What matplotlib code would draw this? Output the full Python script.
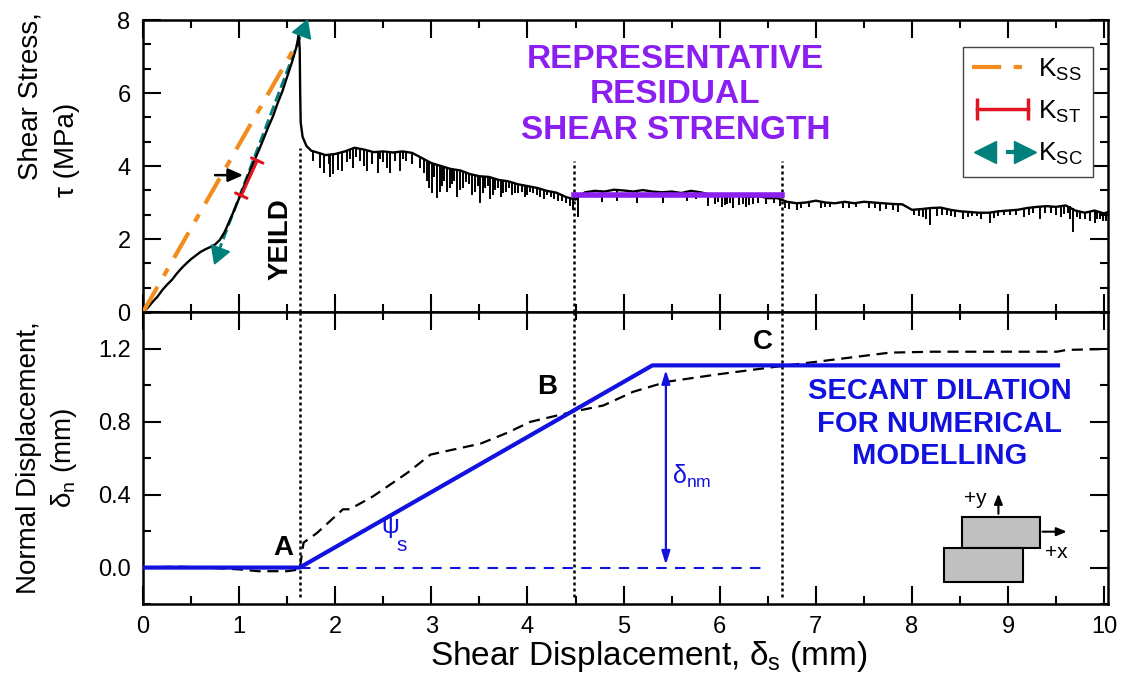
import numpy as np
import matplotlib.pyplot as plt
from matplotlib.lines import Line2D
from matplotlib.patches import Rectangle
from matplotlib.legend_handler import HandlerBase
from matplotlib.ticker import MultipleLocator, AutoMinorLocator, FormatStrFormatter

plt.rcParams['font.family'] = ['Liberation Sans', 'DejaVu Sans']

# shear stress curve, pre-peak
pre_x = [0, 0.05, 0.1, 0.15, 0.2, 0.25, 0.3, 0.35, 0.4, 0.45, 0.5, 0.55, 0.6, 0.65, 0.7,
         0.75, 0.8, 0.85, 0.9, 0.95, 1.0, 1.05, 1.1, 1.15, 1.2, 1.25, 1.3, 1.35, 1.4, 1.45,
         1.5, 1.55, 1.6, 1.62]
pre_y = [0, 0.12, 0.28, 0.42, 0.6, 0.75, 0.88, 1.05, 1.2, 1.33, 1.45, 1.55, 1.65, 1.72, 1.78,
         1.85, 1.98, 2.2, 2.5, 2.8, 3.12, 3.45, 3.78, 4.1, 4.4, 4.72, 5.05, 5.35, 5.72, 6.05,
         6.45, 6.85, 7.3, 7.62]
# post-peak
post_x = [1.63, 1.635, 1.64, 1.66, 1.7, 1.75, 1.8, 1.9, 2.0, 2.1, 2.2, 2.3, 2.4, 2.5, 2.6,
          2.7, 2.8, 2.9, 3.0, 3.1, 3.2, 3.3, 3.4, 3.5, 3.6, 3.7, 3.8, 3.9, 4.0, 4.1, 4.2,
          4.3, 4.4, 4.5, 4.55, 4.6, 4.7, 4.8, 4.9, 5.0, 5.1, 5.2, 5.3, 5.4, 5.5, 5.6, 5.7,
          5.8, 5.9, 6.0, 6.1, 6.2, 6.3, 6.4, 6.5, 6.6, 6.7, 6.8, 6.9, 7.0, 7.1, 7.2, 7.3,
          7.4, 7.5, 7.6, 7.7, 7.8, 7.9, 8.0, 8.1, 8.2, 8.3, 8.4, 8.5, 8.6, 8.7, 8.8, 8.9,
          9.0, 9.1, 9.2, 9.3, 9.4, 9.5, 9.6, 9.7, 9.8, 9.9, 10.0, 10.05]
post_y = [7.2, 6.0, 5.2, 4.8, 4.55, 4.42, 4.38, 4.30, 4.33, 4.40, 4.50, 4.45, 4.38, 4.40, 4.37,
          4.40, 4.36, 4.22, 4.08, 4.00, 3.92, 3.88, 3.78, 3.72, 3.70, 3.62, 3.58, 3.50, 3.45,
          3.40, 3.32, 3.27, 3.15, 3.08, 3.20, 3.28, 3.32, 3.30, 3.35, 3.33, 3.30, 3.34, 3.30,
          3.28, 3.30, 3.26, 3.32, 3.28, 3.22, 3.20, 3.18, 3.20, 3.15, 3.18, 3.12, 3.12, 3.02,
          2.98, 3.00, 3.05, 3.00, 2.98, 3.02, 2.98, 3.02, 3.00, 2.98, 2.96, 2.95, 2.80, 2.82,
          2.85, 2.86, 2.80, 2.76, 2.74, 2.72, 2.72, 2.76, 2.78, 2.80, 2.85, 2.88, 2.90, 2.88,
          2.92, 2.78, 2.72, 2.78, 2.70, 2.75]

# downward spikes of the stress record (x, top, tip)
spike_x = [1.84, 1.88, 1.93, 1.98, 2.03, 2.07, 2.12, 2.18, 2.26, 2.33, 2.38, 2.44, 2.50, 2.57,
           2.62, 2.67, 2.74, 2.80, 2.88, 2.95, 3.01, 3.06, 3.11, 3.16, 3.21, 3.27, 3.33, 3.39,
           3.45, 3.51, 3.56, 3.61, 3.66, 3.72, 3.78, 3.84, 3.90, 3.97, 4.03, 4.10, 4.17, 4.24,
           4.32, 4.40, 4.47, 4.53, 4.62, 4.78, 4.93, 5.14, 5.41, 5.66, 5.88, 5.95, 6.02, 6.08,
           6.14, 6.20, 6.27, 6.35, 6.48, 6.56, 6.63, 6.72, 6.80, 6.93, 7.05, 7.15, 7.28, 7.42,
           7.55, 7.67, 7.80, 7.86, 8.02, 8.12, 8.19, 8.26, 8.36, 8.45, 8.53, 8.62, 8.72, 8.81,
           8.90, 9.02, 9.17, 9.26, 9.33, 9.45, 9.55, 9.62, 9.68, 9.75, 9.85, 9.90, 9.96, 10.02,
           1.77, 1.95, 2.15, 2.22, 2.30, 2.47, 2.54, 2.70, 2.92, 2.98, 3.03, 3.09, 3.13, 3.19,
           3.24, 3.30, 3.36, 3.42, 3.48, 3.54, 3.59, 3.64, 3.69, 3.75, 3.81, 3.87, 3.94, 4.00,
           4.06, 4.13, 4.20, 4.28, 4.36, 4.44, 5.75, 5.98, 6.05, 6.11, 6.24, 6.31, 6.40, 6.68,
           6.85, 7.10, 7.35, 7.62, 7.73, 8.07, 8.15, 8.31, 8.41, 8.58, 8.68, 8.85, 8.96, 9.08,
           9.22, 9.38, 9.50, 9.58, 9.65, 9.72, 9.80, 9.93, 9.99]
spike_top = [4.35, 4.32, 4.30, 4.31, 4.34, 4.36, 4.42, 4.48, 4.48, 4.42, 4.38, 4.39, 4.40, 4.38,
             4.38, 4.39, 4.38, 4.36, 4.25, 4.15, 4.07, 4.03, 3.99, 3.95, 3.92, 3.89, 3.86, 3.79,
             3.75, 3.72, 3.71, 3.70, 3.65, 3.61, 3.59, 3.55, 3.50, 3.47, 3.44, 3.40, 3.34, 3.30,
             3.25, 3.15, 3.09, 3.15, 3.29, 3.30, 3.34, 3.31, 3.28, 3.31, 3.25, 3.23, 3.20, 3.19,
             3.19, 3.20, 3.16, 3.17, 3.13, 3.12, 3.10, 3.01, 2.98, 3.01, 3.04, 2.99, 3.01, 2.99,
             3.02, 2.99, 2.96, 2.95, 2.80, 2.83, 2.85, 2.85, 2.83, 2.78, 2.75, 2.73, 2.72, 2.72,
             2.76, 2.78, 2.83, 2.86, 2.88, 2.90, 2.89, 2.91, 2.85, 2.76, 2.74, 2.77, 2.72, 2.72,
             4.40, 4.30, 4.45, 4.50, 4.46, 4.39, 4.39, 4.40, 4.20, 4.10, 4.05, 4.01, 3.97, 3.93,
             3.90, 3.88, 3.82, 3.77, 3.73, 3.71, 3.70, 3.67, 3.63, 3.60, 3.57, 3.52, 3.48, 3.45,
             3.42, 3.37, 3.32, 3.28, 3.22, 3.12, 3.30, 3.21, 3.20, 3.19, 3.18, 3.16, 3.18, 3.05,
             2.99, 3.00, 3.00, 3.00, 2.98, 2.82, 2.84, 2.85, 2.80, 2.74, 2.72, 2.74, 2.77, 2.79,
             2.85, 2.89, 2.88, 2.90, 2.90, 2.80, 2.72, 2.75, 2.71]
spike_tip = [3.95, 3.80, 4.05, 3.78, 3.90, 3.85, 4.10, 3.95, 4.15, 3.85, 4.05, 3.80, 4.10, 3.82,
             4.15, 3.85, 4.15, 4.05, 3.95, 3.60, 3.25, 3.12, 3.45, 3.30, 3.50, 3.15, 3.40, 3.50,
             3.30, 3.00, 3.40, 3.10, 3.35, 3.15, 3.30, 3.20, 3.25, 3.15, 3.30, 3.20, 3.10, 3.15,
             3.05, 3.00, 2.80, 2.60, 3.15, 3.02, 3.05, 3.00, 3.00, 3.05, 2.90, 2.95, 2.88, 2.95,
             2.86, 2.92, 2.88, 2.95, 2.95, 2.98, 2.90, 2.82, 2.80, 2.88, 2.85, 2.88, 2.85, 2.88,
             2.85, 2.78, 2.80, 2.75, 2.65, 2.60, 2.38, 2.62, 2.65, 2.60, 2.55, 2.62, 2.55, 2.44,
             2.62, 2.65, 2.60, 2.70, 2.55, 2.70, 2.60, 2.70, 2.19, 2.55, 2.50, 2.45, 2.55, 2.50,
             4.15, 3.70, 4.20, 4.25, 4.00, 4.20, 3.95, 4.20, 3.80, 3.40, 3.70, 3.30, 3.60, 3.40,
             3.60, 3.35, 3.55, 3.20, 3.45, 3.25, 3.45, 3.20, 3.40, 3.25, 3.40, 3.25, 3.30, 3.20,
             3.25, 3.15, 3.20, 3.10, 3.05, 2.90, 3.10, 3.02, 2.92, 2.98, 2.95, 2.92, 3.00, 2.85,
             2.85, 2.88, 2.86, 2.85, 2.82, 2.62, 2.55, 2.65, 2.62, 2.60, 2.62, 2.58, 2.65, 2.66,
             2.65, 2.70, 2.65, 2.68, 2.55, 2.60, 2.55, 2.55, 2.48]

# normal displacement measured (dashed)
dn_x = [0, 0.35, 0.65, 1.0, 1.2, 1.5, 1.63, 1.67, 1.81, 2.08, 2.15, 2.39, 2.75, 2.99, 3.16,
        3.51, 3.79, 4.03, 4.47, 4.79, 5.1, 5.45, 5.97, 6.49, 6.65, 7.01, 7.77, 8.22, 9.51,
        9.61, 10.04]
dn_y = [0.0, 0.005, 0.0, -0.01, -0.02, -0.02, -0.01, 0.137, 0.19, 0.32, 0.32, 0.39, 0.52, 0.62,
        0.64, 0.68, 0.74, 0.80, 0.855, 0.89, 0.965, 1.02, 1.06, 1.096, 1.107, 1.13, 1.18,
        1.185, 1.185, 1.195, 1.2]

# secant dilation model
sec_x = [0, 1.63, 5.3, 9.52]
sec_y = [0, 0, 1.11, 1.11]

x_yield, x_b, x_c = 1.63, 4.48, 6.65
tau_res = 3.2

orange = '#F28C1E'
red = '#E0141E'
teal = '#00807C'
purple = '#8B1EF0'
blue = '#1212E0'


class CapHandler(HandlerBase):
    def create_artists(self, legend, orig, xd, yd, w, h, fs, trans):
        y = h / 2 - yd
        xs = [-xd + 0.08 * w, -xd + 0.92 * w]
        ln = Line2D(xs, [y, y], color=red, lw=2.5, transform=trans)
        caps = Line2D(xs, [y, y], ls='none', marker='|', ms=16, mew=2.5, color=red,
                      transform=trans)
        return [ln, caps]


class ArrowHandler(HandlerBase):
    def create_artists(self, legend, orig, xd, yd, w, h, fs, trans):
        y = h / 2 - yd
        left = Line2D([-xd + 0.2 * w], [y], ls='none', marker='<', ms=16, color=teal,
                      transform=trans)
        mid = Line2D([-xd + 0.58 * w, -xd + 0.72 * w], [y, y], color=teal, lw=3,
                     transform=trans)
        right = Line2D([-xd + 0.86 * w], [y], ls='none', marker='>', ms=16, color=teal,
                       transform=trans)
        return [left, mid, right]


fig = plt.figure(figsize=(11.22, 6.88), dpi=100)
ax1 = fig.add_axes([0.1275, 0.5465, 0.860, 0.4244])
ax2 = fig.add_axes([0.1275, 0.1221, 0.860, 0.4244], sharex=ax1)

# ---- top panel
ax1.plot(pre_x + post_x, pre_y + post_y, color='black', lw=1.7, zorder=3)
ax1.vlines(spike_x, spike_tip, spike_top, color='black', lw=1.4, zorder=3)
ax1.plot([0.78, 1.66], [1.62, 7.72], color=teal, lw=2, ls='--', zorder=2)
ax1.plot([0.78], [1.62], ls='none', marker=(3, 0, 159.4), ms=16, color=teal, zorder=4)
ax1.plot([1.66], [7.72], ls='none', marker=(3, 0, -20.6), ms=16, color=teal, zorder=4)
ax1.plot([0, 1.6], [0, 7.35], color=orange, lw=3, ls=(0, (7, 3, 2, 3)), zorder=4)
ax1.annotate('', xy=(1.2, 4.22), xytext=(1.01, 3.12),
             arrowprops=dict(arrowstyle='|-|, widthA=0.45, widthB=0.45', color=red, lw=2.2),
             zorder=5)
ax1.annotate('', xy=(1.07, 3.75), xytext=(0.72, 3.75),
             arrowprops=dict(arrowstyle='-|>, head_length=0.9, head_width=0.4',
                             color='black', lw=1.8), zorder=5)
ax1.plot([x_b, x_c], [tau_res, tau_res], color=purple, lw=4, zorder=4)
for xv in (x_yield, x_b, x_c):
    top = 4.5 if xv == x_yield else 4.15
    ax1.plot([xv, xv], [0, top], color='black', lw=1.8, ls=(0, (1.2, 1.2)), zorder=1)
    ax2.plot([xv, xv], [-0.16, 1.4], color='black', lw=1.8, ls=(0, (1.2, 1.2)), zorder=1)

ax1.text(1.43, 2.0, 'YEILD', rotation=90, ha='center', va='center', fontsize=20,
         fontweight='bold')
ax1.text(5.54, 5.95, 'REPRESENTATIVE\nRESIDUAL\nSHEAR STRENGTH', ha='center', va='center',
         fontsize=24, fontweight='bold', color=purple, linespacing=1.2)

h_ss = Line2D([], [], color=orange, lw=3, ls=(0, (7, 3, 2, 3)))
h_st = Line2D([], [], color=red)
h_sc = Line2D([], [], color=teal)
ax1.legend([h_ss, h_st, h_sc],
           [r'K$_\mathregular{SS}$', r'K$_\mathregular{ST}$', r'K$_\mathregular{SC}$'],
           handler_map={h_st: CapHandler(), h_sc: ArrowHandler()},
           loc='upper right', bbox_to_anchor=(0.984, 0.908), fontsize=19,
           fancybox=False, edgecolor='#444444', framealpha=1, handlelength=2.3,
           handletextpad=0.2, borderpad=0.35, labelspacing=0.6, borderaxespad=0)

# ---- bottom panel
ax2.plot(dn_x, dn_y, color='black', lw=1.6, ls=(0, (5, 3)), zorder=3)
ax2.plot(sec_x, sec_y, color=blue, lw=3, zorder=4)
ax2.plot([x_yield, 6.45], [0, 0], color=blue, lw=1.5, ls=(0, (5, 4)), zorder=3)
ax2.annotate('', xy=(5.44, 0.0), xytext=(5.44, 1.1),
             arrowprops=dict(arrowstyle='<|-|>, head_length=0.8, head_width=0.25',
                             color=blue, lw=1.6))
ax2.text(5.5, 0.5, r'δ$_\mathregular{nm}$', color=blue, fontsize=18, va='center')
ax2.text(2.57, 0.23, 'ψ', color=blue, fontsize=18, ha='center', va='center')
ax2.text(2.69, 0.12, 's', color=blue, fontsize=15, ha='center', va='center')
ax2.text(1.46, 0.11, 'A', fontsize=20, fontweight='bold', ha='center', va='center')
ax2.text(4.2, 0.99, 'B', fontsize=20, fontweight='bold', ha='center', va='center')
ax2.text(6.45, 1.24, 'C', fontsize=20, fontweight='bold', ha='center', va='center')
ax2.text(8.29, 0.79, 'SECANT DILATION\nFOR NUMERICAL\nMODELLING', ha='center', va='center',
         fontsize=21, fontweight='bold', color=blue, linespacing=1.2)

ax2.add_patch(Rectangle((8.52, 0.11), 0.81, 0.17, facecolor='#C0C0C0', edgecolor='black',
                        lw=1.5, zorder=5))
ax2.add_patch(Rectangle((8.33, -0.077), 0.83, 0.187, facecolor='#C0C0C0', edgecolor='black',
                        lw=1.5, zorder=5))
ax2.annotate('', xy=(8.9, 0.42), xytext=(8.9, 0.28),
             arrowprops=dict(arrowstyle='-|>, head_length=0.6, head_width=0.25',
                             color='black', lw=1.5))
ax2.annotate('', xy=(9.64, 0.197), xytext=(9.33, 0.197),
             arrowprops=dict(arrowstyle='-|>, head_length=0.6, head_width=0.25',
                             color='black', lw=1.5))
ax2.text(8.66, 0.38, '+y', fontsize=15, ha='center', va='center')
ax2.text(9.5, 0.08, '+x', fontsize=15, ha='center', va='center')

# ---- axes styling
ax1.set_xlim(0, 10.04)
ax1.set_ylim(0, 8)
ax2.set_ylim(-0.2, 1.403)
ax1.xaxis.set_major_locator(MultipleLocator(1))
ax1.xaxis.set_minor_locator(MultipleLocator(0.5))
ax1.yaxis.set_major_locator(MultipleLocator(2))
ax1.yaxis.set_minor_locator(AutoMinorLocator(3))
ax2.yaxis.set_major_locator(MultipleLocator(0.4))
ax2.yaxis.set_minor_locator(MultipleLocator(0.2))
ax2.yaxis.set_major_formatter(FormatStrFormatter('%.1f'))
for ax in (ax1, ax2):
    ax.tick_params(which='both', direction='in', top=True, right=True, width=1.5,
                   labelsize=17, pad=9)
    ax.tick_params(which='major', length=13)
    ax.tick_params(which='minor', length=6)
    for s in ax.spines.values():
        s.set_linewidth(1.8)
ax1.tick_params(labelbottom=False)

ax1.text(-0.117, 0.74, 'Shear Stress,', rotation=90, ha='center', va='center',
         fontsize=20, transform=ax1.transAxes)
ax1.text(-0.079, 0.555, 'τ (MPa)', rotation=90, ha='center', va='center',
         fontsize=20, transform=ax1.transAxes)
ax2.set_ylabel('Normal Displacement,\n' + r'δ$_\mathregular{n}$ (mm)', fontsize=20,
               linespacing=1.35)
ax2.yaxis.set_label_coords(-0.066, 0.5)
ax2.set_xlabel(r'Shear Displacement, δ$_\mathregular{s}$ (mm)', fontsize=24)
ax2.xaxis.set_label_coords(0.524, -0.12)

fig.savefig('out.png', dpi=100)
